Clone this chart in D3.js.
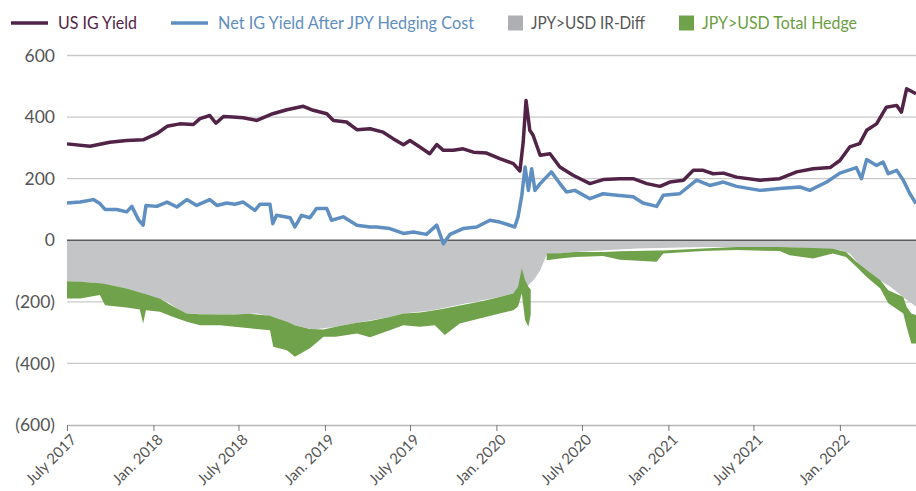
<!DOCTYPE html>
<html>
<head>
<meta charset="utf-8">
<script src="https://cdn.jsdelivr.net/npm/d3@7"></script>
<style>
  body { margin: 0; background: #fff; }
  text { font-family: Lato, "Open Sans", sans-serif; }
</style>
</head>
<body>
<script>
// US IG yield vs. JPY hedged yield, bps

var usIgYield = [
  ["2017-07-01",313],["2017-08-19",305],["2017-09-30",318],["2017-11-05",324],["2017-12-10",326],
  ["2018-01-08",346],["2018-01-30",370],["2018-02-26",378],["2018-03-27",376],["2018-04-10",395],
  ["2018-05-01",405],["2018-05-14",380],["2018-05-30",402],["2018-06-19",400],["2018-07-11",398],
  ["2018-08-09",389],["2018-09-12",411],["2018-10-12",424],["2018-11-16",435],["2018-12-07",422],
  ["2019-01-05",411],["2019-01-19",389],["2019-02-16",384],["2019-03-10",359],["2019-04-07",362],
  ["2019-05-05",351],["2019-05-26",330],["2019-06-17",310],["2019-07-01",324],["2019-07-22",303],
  ["2019-08-12",281],["2019-08-27",311],["2019-09-10",292],["2019-10-01",292],["2019-10-22",297],
  ["2019-11-13",286],["2019-12-11",283],["2020-01-08",265],["2020-02-06",249],["2020-02-20",225],
  ["2020-02-27",319],["2020-03-04",454],["2020-03-12",357],["2020-03-19",341],["2020-04-03",276],
  ["2020-04-24",281],["2020-05-15",238],["2020-06-12",211],["2020-07-18",184],["2020-08-15",197],
  ["2020-09-20",200],["2020-10-18",200],["2020-11-16",184],["2020-12-14",175],["2021-01-04",189],
  ["2021-02-02",195],["2021-02-23",227],["2021-03-16",227],["2021-04-06",216],["2021-04-28",218],
  ["2021-05-26",205],["2021-07-15",195],["2021-08-26",200],["2021-10-01",222],["2021-11-05",232],
  ["2021-12-11",236],["2022-01-01",259],["2022-01-22",303],["2022-02-12",314],["2022-02-27",357],
  ["2022-03-20",378],["2022-04-10",432],["2022-05-02",438],["2022-05-12",416],["2022-05-23",492],
  ["2022-06-12",476]
];

var netIgYield = [
  ["2017-07-01",121],["2017-07-29",124],["2017-08-26",132],["2017-09-09",119],["2017-09-20",100],
  ["2017-10-15",100],["2017-11-05",92],["2017-11-16",110],["2017-11-30",67],["2017-12-10",49],
  ["2017-12-16",113],["2018-01-08",110],["2018-01-30",124],["2018-02-20",108],["2018-03-13",132],
  ["2018-04-03",113],["2018-05-01",132],["2018-05-16",113],["2018-06-06",121],["2018-06-23",117],
  ["2018-07-11",124],["2018-08-05",97],["2018-08-16",117],["2018-09-06",117],["2018-09-12",54],
  ["2018-09-20",81],["2018-10-19",73],["2018-10-29",43],["2018-11-12",81],["2018-11-30",73],
  ["2018-12-14",103],["2019-01-05",103],["2019-01-15",65],["2019-02-09",76],["2019-03-10",49],
  ["2019-04-07",43],["2019-04-21",43],["2019-05-19",38],["2019-06-17",22],["2019-07-08",27],
  ["2019-08-05",19],["2019-08-27",49],["2019-09-10",-11],["2019-09-24",19],["2019-10-22",38],
  ["2019-11-20",43],["2019-12-18",65],["2020-01-08",59],["2020-01-23",52],["2020-02-09",43],
  ["2020-02-16",76],["2020-02-24",146],["2020-03-02",238],["2020-03-09",162],["2020-03-16",232],
  ["2020-03-23",162],["2020-04-03",184],["2020-04-27",222],["2020-05-15",184],["2020-05-29",157],
  ["2020-06-16",162],["2020-07-18",135],["2020-08-15",151],["2020-09-13",146],["2020-10-18",141],
  ["2020-11-08",121],["2020-12-07",110],["2020-12-21",146],["2021-01-25",151],["2021-03-02",195],
  ["2021-03-30",178],["2021-04-28",189],["2021-05-26",175],["2021-07-15",162],["2021-08-26",168],
  ["2021-10-08",173],["2021-10-29",162],["2021-12-04",189],["2022-01-01",218],["2022-02-05",236],
  ["2022-02-16",200],["2022-02-27",262],["2022-03-20",243],["2022-04-03",254],["2022-04-14",216],
  ["2022-05-02",227],["2022-05-16",195],["2022-05-30",151],["2022-06-12",119]
];

var irDiff = [
  ["2017-07-01",-133],["2017-08-26",-138],["2017-09-30",-146],["2017-11-05",-157],["2017-12-03",-173],
  ["2018-01-01",-184],["2018-01-30",-200],["2018-02-20",-222],["2018-03-13",-238],["2018-05-01",-241],
  ["2018-06-23",-241],["2018-08-09",-238],["2018-09-13",-249],["2018-10-29",-276],["2018-12-07",-290],
  ["2019-01-24",-281],["2019-03-22",-265],["2019-05-19",-249],["2019-06-17",-238],["2019-08-19",-227],
  ["2019-10-29",-205],["2020-01-08",-184],["2020-02-06",-173],["2020-02-20",-162],["2020-03-06",-150],
  ["2020-03-20",-130],["2020-04-03",-98],["2020-04-14",-58],["2020-04-17",-48],["2020-05-01",-45],
  ["2020-06-16",-38],["2020-10-25",-27],["2021-03-16",-22],["2021-09-16",-23],["2022-01-01",-32],
  ["2022-01-22",-43],["2022-02-12",-80],["2022-03-14",-119],["2022-04-18",-150],["2022-05-20",-190],
  ["2022-06-12",-215]
];

// Total hedge: daily range shown as a band [date, upper, lower]
var totalHedge = [
  ["2017-07-01",-133,-189],["2017-07-29",-135,-189],["2017-09-09",-140,-178],["2017-09-20",-142,-211],
  ["2017-11-05",-157,-218],["2017-12-03",-170,-225],["2017-12-10",-173,-270],["2017-12-16",-175,-227],
  ["2018-01-15",-190,-232],["2018-02-12",-215,-249],["2018-03-13",-238,-265],["2018-04-10",-240,-276],
  ["2018-05-23",-241,-276],["2018-06-23",-241,-281],["2018-07-25",-239,-286],["2018-09-06",-245,-292],
  ["2018-09-13",-249,-346],["2018-10-12",-265,-357],["2018-10-29",-276,-378],["2018-11-30",-288,-351],
  ["2018-12-29",-290,-313],["2019-01-24",-281,-313],["2019-03-10",-268,-303],["2019-04-07",-262,-315],
  ["2019-05-19",-249,-292],["2019-06-17",-238,-276],["2019-07-22",-235,-281],["2019-08-23",-227,-276],
  ["2019-09-13",-222,-308],["2019-10-15",-212,-270],["2019-11-26",-200,-254],["2020-01-08",-184,-238],
  ["2020-02-06",-173,-227],["2020-02-16",-151,-215],["2020-02-24",-92,-173],["2020-03-02",-130,-259],
  ["2020-03-09",-151,-281],["2020-03-14",-160,-240],["2020-03-30",null,null],
  ["2020-04-17",-43,-65],["2020-05-15",-42,-59],["2020-06-16",-38,-54],["2020-08-15",-38,-51],
  ["2020-09-20",-36,-63],["2020-12-07",-33,-70],["2020-12-21",-33,-43],["2021-03-16",-27,-35],
  ["2021-05-26",-22,-32],["2021-08-26",-22,-35],["2021-09-16",-23,-49],["2021-11-05",-25,-59],
  ["2021-12-17",-28,-43],["2022-01-14",-38,-54],["2022-02-05",-70,-86],["2022-02-27",-97,-119],
  ["2022-03-28",-130,-157],["2022-04-14",-162,-205],["2022-05-16",-184,-238],["2022-05-23",-216,-281],
  ["2022-06-02",-238,-335],["2022-06-12",-243,-335]
];

var xTicks = ["2017-07-01","2018-01-01","2018-07-01","2019-01-01","2019-07-01",
              "2020-01-01","2020-07-01","2021-01-01","2021-07-01","2022-01-01"];
var yTicks = [600, 400, 200, 0, -200, -400, -600];

var legendItems = [
  {label: "US IG Yield", color: "#512346", text: "#512346", kind: "line", x: 11, w: 79},
  {label: "Net IG Yield After JPY Hedging Cost", color: "#5f8ec0", text: "#5f8ec0", kind: "line", x: 171, w: 256},
  {label: "JPY>USD IR-Diff", color: "#aeafb2", text: "#555", kind: "box", x: 508, w: 114},
  {label: "JPY>USD Total Hedge", color: "#70a24b", text: "#6a9e3f", kind: "box", x: 679, w: 155}
];

var width = 916, height = 491;
var parse = d3.timeParse("%Y-%m-%d");

var svg = d3.select("body").append("svg")
  .attr("width", width)
  .attr("height", height);

var xScale = d3.scaleTime()
  .domain([parse("2017-07-01"), parse("2022-06-12")])
  .range([67, 916]);
var yScale = d3.scaleLinear().domain([-600, 600]).range([425, 55.5]);

// gridlines
svg.append("g").selectAll("line")
  .data(yTicks.filter(function(d){ return d !== 0 && d !== -600; }))
  .enter().append("line")
  .attr("x1", 67).attr("x2", 916)
  .attr("y1", function(d){ return yScale(d); })
  .attr("y2", function(d){ return yScale(d); })
  .attr("stroke", "#c9c9c9").attr("stroke-width", 1.3);

// y labels
svg.append("g").selectAll("text")
  .data(yTicks)
  .enter().append("text")
  .attr("x", 55)
  .attr("y", function(d){ return yScale(d); })
  .attr("dy", "0.35em")
  .attr("text-anchor", "end")
  .attr("fill", "#555")
  .style("font-size", "17.5px")
  .text(function(d){ return d < 0 ? "(" + (-d) + ")" : d; });

// gray IR-diff area
var grayArea = d3.area()
  .x(function(d){ return xScale(parse(d[0])); })
  .y0(yScale(0))
  .y1(function(d){ return yScale(d[1]); });
svg.append("path").datum(irDiff)
  .attr("d", grayArea)
  .attr("fill", "#c4c5c7");

// green total hedge band
var greenArea = d3.area()
  .defined(function(d){ return d[1] != null; })
  .x(function(d){ return xScale(parse(d[0])); })
  .y0(function(d){ return yScale(d[1]); })
  .y1(function(d){ return yScale(d[2]); });
svg.append("path").datum(totalHedge)
  .attr("d", greenArea)
  .attr("fill", "#70a24b");

// zero line
svg.append("line")
  .attr("x1", 67).attr("x2", 916)
  .attr("y1", yScale(0)).attr("y2", yScale(0))
  .attr("stroke", "#5a5a5a").attr("stroke-width", 1.3);

// lines
var line = d3.line()
  .x(function(d){ return xScale(parse(d[0])); })
  .y(function(d){ return yScale(d[1]); });
svg.append("path").datum(usIgYield)
  .attr("d", line).attr("fill", "none")
  .attr("stroke", "#512346").attr("stroke-width", 3.5).attr("stroke-linejoin", "round");
svg.append("path").datum(netIgYield)
  .attr("d", line).attr("fill", "none")
  .attr("stroke", "#5f8ec0").attr("stroke-width", 3.5).attr("stroke-linejoin", "round");

// bottom axis
var xAxis = d3.axisBottom(xScale)
  .tickValues(xTicks.map(parse))
  .tickSize(6)
  .tickSizeOuter(0)
  .tickFormat(function(d){
    return (d.getMonth() === 0 ? "Jan. " : "July ") + d.getFullYear();
  });
var gx = svg.append("g")
  .attr("transform", "translate(0," + yScale(-600) + ")")
  .call(xAxis);
gx.select(".domain").attr("stroke", "#b5b5b5").attr("stroke-width", 1.3);
gx.selectAll(".tick line").attr("stroke", "#777");
gx.selectAll(".tick text")
  .attr("fill", "#555")
  .style("font-size", "15px")
  .style("font-family", "Lato, sans-serif")
  .attr("text-anchor", "end")
  .attr("y", 18)
  .attr("dx", -4)
  .attr("dy", 0)
  .attr("transform", "rotate(-45)");

// legend
var leg = svg.append("g").selectAll("g")
  .data(legendItems)
  .enter().append("g")
  .attr("transform", function(d){ return "translate(" + d.x + ",23)"; });
leg.filter(function(d){ return d.kind === "line"; })
  .append("line")
  .attr("x1", 0).attr("x2", 37)
  .attr("stroke", function(d){ return d.color; })
  .attr("stroke-width", 3.5);
leg.filter(function(d){ return d.kind === "box"; })
  .append("rect")
  .attr("x", 0).attr("y", -7.5).attr("width", 15).attr("height", 15)
  .attr("fill", function(d){ return d.color; });
leg.append("text")
  .attr("x", function(d){ return d.kind === "line" ? 47 : 23; })
  .attr("dy", "0.35em")
  .attr("fill", function(d){ return d.text; })
  .attr("textLength", function(d){ return d.w; })
  .attr("lengthAdjust", "spacingAndGlyphs")
  .style("font-size", "18px")
  .text(function(d){ return d.label; });
</script>
</body>
</html>
